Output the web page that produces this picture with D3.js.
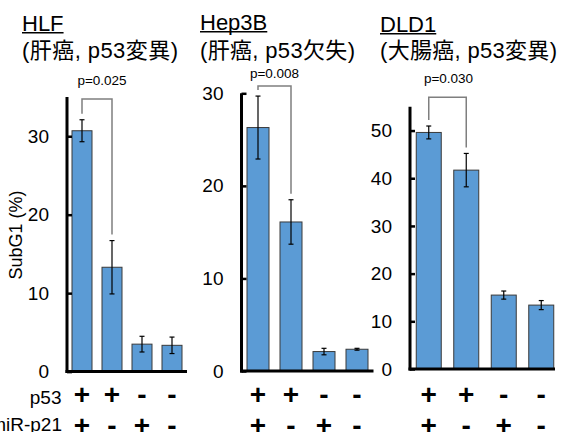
<!DOCTYPE html>
<html>
<head>
<meta charset="utf-8">
<script src="https://cdn.jsdelivr.net/npm/d3@7"></script>
<style>
  html, body { margin: 0; padding: 0; background: #fff; }
  svg { display: block; }
  text { font-family: "Liberation Sans", Arial, "Noto Sans CJK JP", sans-serif; }
</style>
</head>
<body>
<svg id="chart" width="561" height="432"></svg>
<script>
// ---- data ----
const cellLines = ["HLF", "Hep3B", "DLD1"];
const subtitles = ["(肝癌, p53変異)", "(肝癌, p53欠失)", "(大腸癌, p53変異)"];
const conditions = ["c1", "c2", "c3", "c4"];
const p53Signs = ["+", "+", "-", "-"];
const mirSigns = ["+", "-", "+", "-"];
const hlfMeans = [30.7, 13.3, 3.5, 3.35];
const hlfErrors = [1.4, 3.4, 1.0, 1.05];
const hep3bMeans = [26.3, 16.1, 2.1, 2.35];
const hep3bErrors = [3.4, 2.4, 0.35, 0.1];
const dld1Means = [49.6, 41.7, 15.5, 13.4];
const dld1Errors = [1.35, 3.5, 0.85, 0.95];
const pValues = ["p=0.025", "p=0.008", "p=0.030"];
const hlfTicks = [0, 10, 20, 30];
const hep3bTicks = [0, 10, 20, 30];
const dld1Ticks = [0, 10, 20, 30, 40, 50];
const yMaxes = [35, 30, 55];
const yLabel = "SubG1 (%)";
const rowLabels = ["p53", "miR-p21"];

// ---- layout ----
const layout = [
  { x0: 67, x1: 187, baseEnd: 187, y0: 371.6, yTop: 97, bracketY: 99, pY: 85, pDx: 5,
    titleX: 22, titleY: 30.5, subLen: 156 },
  { x0: 241.5, x1: 373.5, baseEnd: 373.5, y0: 371, yTop: 93.3, bracketY: 86, pY: 78, pDx: 0,
    titleX: 200, titleY: 29.5, subLen: 155 },
  { x0: 410, x1: 560, baseEnd: 555, y0: 369, yTop: 106.7, bracketY: 97.3, pY: 83, pDx: 1,
    titleX: 380, titleY: 31.5, subLen: 177 }
];
const means = [hlfMeans, hep3bMeans, dld1Means];
const errors = [hlfErrors, hep3bErrors, dld1Errors];
const ticks = [hlfTicks, hep3bTicks, dld1Ticks];

const svg = d3.select("#chart");
const BAR_FILL = "#5B9BD5";

layout.forEach((L, i) => {
  const g = svg.append("g");
  const x = d3.scaleBand().domain(conditions).range([L.x0, L.x1])
    .paddingInner(1 / 3).paddingOuter(1 / 6);
  const y = d3.scaleLinear().domain([0, yMaxes[i]]).range([L.y0, L.yTop]);
  const rows = conditions.map((c, j) => ({ c, m: means[i][j], e: errors[i][j] }));

  // bars
  g.selectAll("rect.bar").data(rows).join("rect")
    .attr("class", "bar")
    .attr("x", d => x(d.c))
    .attr("width", x.bandwidth())
    .attr("y", d => y(d.m))
    .attr("height", d => y(0) - y(d.m))
    .attr("fill", BAR_FILL)
    .attr("stroke", "#3a3a3a")
    .attr("stroke-width", 1);

  // error bars
  const cx = d => x(d.c) + x.bandwidth() / 2;
  const eg = g.selectAll("g.err").data(rows).join("g").attr("class", "err")
    .attr("stroke", "#000").attr("stroke-width", 1.2);
  eg.append("line").attr("x1", cx).attr("x2", cx)
    .attr("y1", d => y(d.m + d.e)).attr("y2", d => y(d.m - d.e));
  eg.append("line").attr("x1", d => cx(d) - 2.5).attr("x2", d => cx(d) + 2.5)
    .attr("y1", d => y(d.m + d.e)).attr("y2", d => y(d.m + d.e));
  eg.append("line").attr("x1", d => cx(d) - 2.5).attr("x2", d => cx(d) + 2.5)
    .attr("y1", d => y(d.m - d.e)).attr("y2", d => y(d.m - d.e));

  // y axis
  const ax = g.append("g").attr("transform", `translate(${L.x0},0)`)
    .call(d3.axisLeft(y).tickValues(ticks[i]).tickSize(-5).tickPadding(18).tickFormat(d3.format("d")));
  ax.select(".domain").remove();
  ax.selectAll(".tick line").attr("stroke", "#000").attr("stroke-width", 2.5);
  ax.selectAll(".tick text").attr("font-size", 19).attr("fill", "#000")
    .attr("font-family", "'Liberation Sans', Arial, sans-serif");
  g.append("line").attr("x1", L.x0).attr("x2", L.x0)
    .attr("y1", L.yTop).attr("y2", y(0) + 1.5)
    .attr("stroke", "#000").attr("stroke-width", 3);
  g.append("line").attr("x1", L.x0 - 1.5).attr("x2", L.baseEnd)
    .attr("y1", y(0)).attr("y2", y(0))
    .attr("stroke", "#000").attr("stroke-width", 3);

  // significance bracket
  const a = rows[0], b = rows[1];
  const gap = 6;
  g.append("path")
    .attr("d", `M${cx(a)},${y(a.m + a.e) - gap}V${L.bracketY}H${cx(b)}V${y(b.m + b.e) - gap}`)
    .attr("fill", "none").attr("stroke", "#7f7f7f").attr("stroke-width", 1.5);
  g.append("text")
    .attr("x", (cx(a) + cx(b)) / 2 + L.pDx).attr("y", L.pY)
    .attr("text-anchor", "middle").attr("font-size", 13.5).attr("fill", "#000")
    .text(pValues[i]);

  // signs
  g.selectAll("text.p53").data(p53Signs).join("text").attr("class", "p53")
    .attr("x", (d, j) => x(conditions[j]) + x.bandwidth() / 2)
    .attr("y", 404).attr("text-anchor", "middle")
    .attr("font-size", 28).attr("font-weight", "bold").attr("fill", "#000")
    .text(d => d);
  g.selectAll("text.mir").data(mirSigns).join("text").attr("class", "mir")
    .attr("x", (d, j) => x(conditions[j]) + x.bandwidth() / 2)
    .attr("y", 435).attr("text-anchor", "middle")
    .attr("font-size", 28).attr("font-weight", "bold").attr("fill", "#000")
    .text(d => d);

  // titles
  const t1 = g.append("text").attr("x", L.titleX).attr("y", L.titleY)
    .attr("font-size", 22).attr("fill", "#000").text(cellLines[i]);
  const w = t1.node().getComputedTextLength();
  g.append("line").attr("x1", L.titleX).attr("x2", L.titleX + w)
    .attr("y1", L.titleY + 2.3).attr("y2", L.titleY + 2.3)
    .attr("stroke", "#000").attr("stroke-width", 1.5);
  g.append("text").attr("x", L.titleX).attr("y", 57.5)
    .attr("font-size", 22).attr("fill", "#000")
    .attr("textLength", L.subLen).attr("lengthAdjust", "spacing")
    .text(subtitles[i]);
});

// y label
svg.append("text")
  .attr("transform", "translate(22,235) rotate(-90)")
  .attr("text-anchor", "middle").attr("font-size", 18).attr("fill", "#000")
  .text(yLabel);

// row labels
svg.append("text").attr("x", 61.5).attr("y", 403.5).attr("text-anchor", "end")
  .attr("font-size", 19).attr("fill", "#000").text(rowLabels[0]);
svg.append("text").attr("x", 62).attr("y", 431).attr("text-anchor", "end")
  .attr("font-size", 19).attr("fill", "#000").text(rowLabels[1]);
</script>
</body>
</html>
